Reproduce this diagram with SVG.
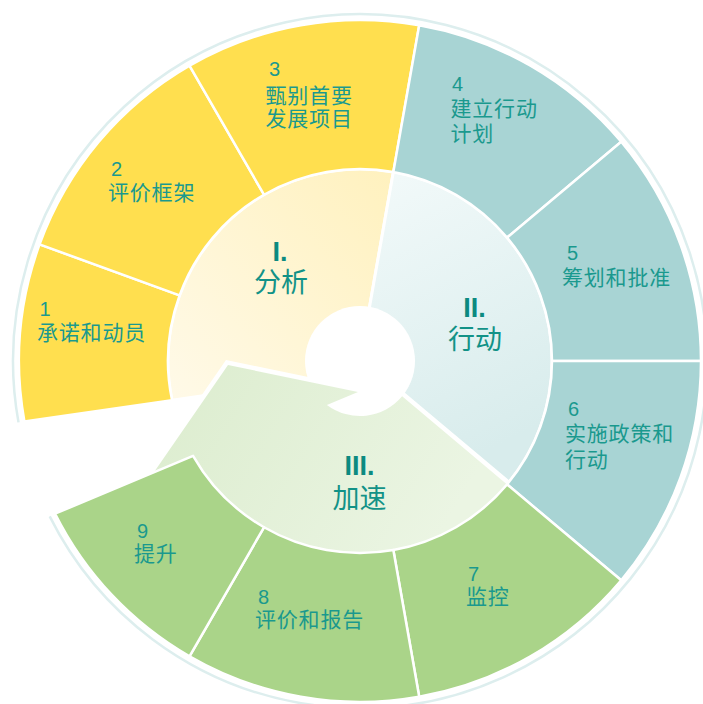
<svg xmlns="http://www.w3.org/2000/svg" width="703" height="704" viewBox="0 0 703 704">
<defs>
<linearGradient id="gI" x1="0" y1="1" x2="1" y2="0"><stop offset="0" stop-color="#FFFAEA"/><stop offset="1" stop-color="#FFF1BE"/></linearGradient>
<linearGradient id="gII" x1="0" y1="0" x2="0.3" y2="1"><stop offset="0" stop-color="#F3FAFA"/><stop offset="1" stop-color="#D8ECEC"/></linearGradient>
<linearGradient id="gIII" x1="0" y1="0" x2="1" y2="0.3"><stop offset="0" stop-color="#DBECCD"/><stop offset="1" stop-color="#EBF5E3"/></linearGradient>
<style>
.seg{stroke:#fff;stroke-width:2.5;stroke-linejoin:round}
.y{fill:#FFDF4F}.c{fill:#A8D4D4}.g{fill:#AAD489}
.inner{stroke:#fff;stroke-width:3;stroke-linejoin:round}
text{font-family:"Liberation Sans","Noto Sans CJK SC",sans-serif;fill:#1A998E}
.n{font-size:20px}
.l{font-size:21px;letter-spacing:0.8px}
.r{font-size:27px;font-weight:bold;fill:#0C8A80;text-anchor:middle}
.rl{font-size:27px;text-anchor:middle;fill:#129287}
</style>
</defs>
<rect width="703" height="704" fill="#fff"/>
<g id="outer-ring">
<path d="M18.5,422.4 A347,347 0 1 1 49.7,516.4" fill="none" stroke="#DDEEEE" stroke-width="2.5"/>
</g>
<g id="phase-I">
<path class="inner" fill="url(#gI)" d="M360,361 L393.34,171.92 A192,192 0 0 0 172.06,400.26 L215,394 L300,420 Z"/>
</g>
<g id="phase-II">
<path class="inner" fill="url(#gII)" d="M360,361 L393.34,171.92 A192,192 0 0 1 507.08,484.42 Z"/>
</g>
<g id="hub">
<circle cx="360" cy="361" r="55" fill="#fff"/>
</g>
<g id="phase-III">
<path fill="url(#gIII)" stroke="#fff" stroke-width="9" stroke-linejoin="miter" paint-order="stroke" d="M358,392 L228,365 L140.3,492 L202.72,471.13 A192,192 0 0 0 507.08,484.42 L402.13,396.35 A55,55 0 0 1 326.9,404.93 Z"/>
</g>
<g id="step1"><path class="seg y" d="M172.06,400.26 L24.39,421.38 A341,341 0 0 1 39.56,244.37 L179.58,295.33 A192,192 0 0 0 172.06,400.26 Z"/></g>
<g id="step2"><path class="seg y" d="M179.58,295.33 L39.56,244.37 A341,341 0 0 1 189.5,65.69 L264,194.72 A192,192 0 0 0 179.58,295.33 Z"/></g>
<g id="step3"><path class="seg y" d="M264,194.72 L189.5,65.69 A341,341 0 0 1 419.21,25.18 L393.34,171.92 A192,192 0 0 0 264,194.72 Z"/></g>
<g id="step4"><path class="seg c" d="M393.34,171.92 L419.21,25.18 A341,341 0 0 1 621.22,141.81 L507.08,237.58 A192,192 0 0 0 393.34,171.92 Z"/></g>
<g id="step5"><path class="seg c" d="M507.08,237.58 L621.22,141.81 A341,341 0 0 1 701,361 L552,361 A192,192 0 0 0 507.08,237.58 Z"/></g>
<g id="step6"><path class="seg c" d="M552,361 L701,361 A341,341 0 0 1 621.22,580.19 L507.08,484.42 A192,192 0 0 0 552,361 Z"/></g>
<g id="step7"><path class="seg g" d="M507.08,484.42 L621.22,580.19 A341,341 0 0 1 419.21,696.82 L393.34,550.08 A192,192 0 0 0 507.08,484.42 Z"/></g>
<g id="step8"><path class="seg g" d="M393.34,550.08 L419.21,696.82 A341,341 0 0 1 189.5,656.32 L264,527.28 A192,192 0 0 0 393.34,550.08 Z"/></g>
<g id="step9"><path class="seg g" d="M264,527.28 L189.5,656.32 A341,341 0 0 1 55.1,513.69 L193.06,455.84 A192,192 0 0 0 264,527.28 Z"/></g>
<g id="connectors"/>
<g id="labels">
<text class="n" x="39.5" y="315.5">1</text><text class="l" x="37" y="340">承诺和动员</text>
<text class="n" x="111" y="175.5">2</text><text class="l" x="108" y="200">评价框架</text>
<text class="n" x="269" y="75.5">3</text><text class="l" x="265.5" y="103">甄别首要</text><text class="l" x="265.5" y="126">发展项目</text>
<text class="n" x="452" y="91">4</text><text class="l" x="450.5" y="116">建立行动</text><text class="l" x="450.5" y="141">计划</text>
<text class="n" x="567" y="259.5">5</text><text class="l" x="562" y="285">筹划和批准</text>
<text class="n" x="568" y="415.5">6</text><text class="l" x="565" y="441">实施政策和</text><text class="l" x="565" y="467">行动</text>
<text class="n" x="468" y="580.5">7</text><text class="l" x="466" y="604">监控</text>
<text class="n" x="258" y="604">8</text><text class="l" x="255" y="627">评价和报告</text>
<text class="n" x="137" y="538">9</text><text class="l" x="134" y="561">提升</text>
<text class="r" x="280" y="261">I.</text><text class="rl" x="281" y="292">分析</text>
<text class="r" x="474.5" y="317">II.</text><text class="rl" x="475" y="349">行动</text>
<text class="r" x="359.5" y="475">III.</text><text class="rl" x="359.5" y="508">加速</text>
</g>
</svg>
